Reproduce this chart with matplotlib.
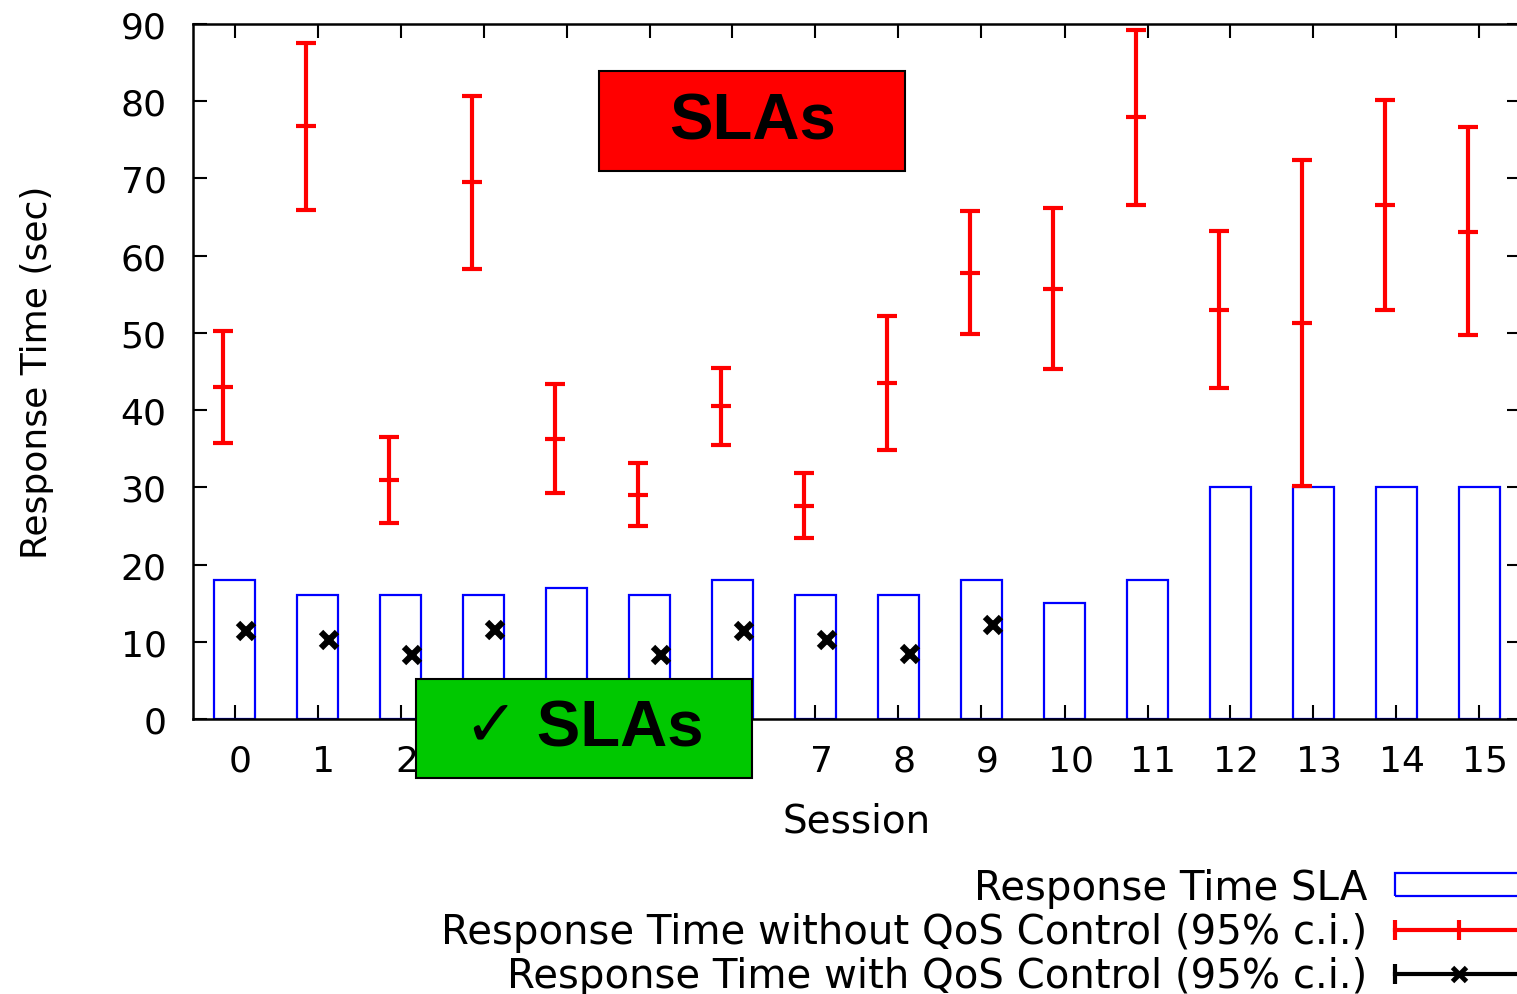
#!/usr/bin/env python3

import matplotlib
matplotlib.use('Agg')
import matplotlib.pyplot as plt
import matplotlib.transforms as mtrans
import numpy as np
from matplotlib.lines import Line2D
from matplotlib.patches import Patch, Rectangle
from matplotlib.legend_handler import HandlerTuple, HandlerLine2D

# ======================================================================
# Data.
# ======================================================================

sessions = np.arange(16)
sla = [18, 16, 16, 16, 17, 16, 18, 16, 16, 18, 15, 18, 30, 30, 30, 30]

# Without QoS control: mean and 95% c.i. bounds.
noqos_mean = [43.0, 76.8, 31.0, 69.6, 36.3, 29.0, 40.5, 27.6,
              43.5, 57.8, 55.7, 78.0, 53.0, 51.3, 66.6, 63.1]
noqos_low = [35.8, 65.9, 25.4, 58.3, 29.3, 25.0, 35.5, 23.4,
             34.8, 49.9, 45.3, 66.6, 42.9, 30.2, 53.0, 49.7]
noqos_high = [50.3, 87.6, 36.5, 80.7, 43.4, 33.2, 45.5, 31.9,
              52.2, 65.8, 66.2, 89.2, 63.2, 72.4, 80.2, 76.6]

# With QoS control (only sessions that were measured).
qos_mean = [11.4, 10.2, 8.3, 11.5, np.nan, 8.3, 11.4, 10.2,
            8.4, 12.2, np.nan, np.nan, np.nan, np.nan, np.nan, np.nan]

labels = [
    'Response Time SLA',
    'Response Time without QoS Control (95% c.i.)',
    'Response Time with QoS Control (95% c.i.)',
]

# ======================================================================
# Legend handler keeping markevery (gnuplot-like key samples).
# ======================================================================

class HandlerEvery(HandlerLine2D):
    def create_artists(self, legend, orig_handle, *args):
        arts = super().create_artists(legend, orig_handle, *args)
        for a in arts:
            a.set_markevery(orig_handle.get_markevery())
        return arts

# ======================================================================
# Plot.
# ======================================================================

plt.rcParams['font.family'] = ['DejaVu Sans']

fig = plt.figure(figsize=(15.17, 9.95), dpi=100)
ax = fig.add_axes([193/1517, 1-720/995, (1521-193)/1517, (720-25)/995])

ax.bar(sessions, sla, width=0.5, facecolor='none', edgecolor='#0000ff',
       linewidth=1.6, zorder=2)

dx = 0.14
mean = np.array(noqos_mean)
yerr = np.vstack([mean - np.array(noqos_low), np.array(noqos_high) - mean])
ax.errorbar(sessions - dx, mean, yerr=yerr, fmt='_', color='#ff0000',
            ecolor='#ff0000', elinewidth=3, capsize=7, capthick=3,
            markersize=15, markeredgewidth=3, zorder=3)

ax.plot(sessions + dx, qos_mean, linestyle='none', marker='x',
        color='black', markersize=12, markeredgewidth=4.5, zorder=4)

ax.set_xlim(-0.5, 15.5)
ax.set_ylim(0, 90)
ax.set_xticks(sessions)
ax.set_yticks(np.arange(0, 91, 10))
ax.tick_params(direction='in', length=10, width=1.5, top=True, right=True,
               labelsize=26)
ax.tick_params(axis='y', pad=19)
ax.tick_params(axis='x', pad=18)
shift = mtrans.ScaledTranslation(6/100, 0, fig.dpi_scale_trans)
for lab in ax.get_xticklabels():
    lab.set_transform(lab.get_transform() + shift)
for s in ax.spines.values():
    s.set_linewidth(1.8)

ax.set_xlabel('Session', fontsize=28, labelpad=17)
ax.set_ylabel('Response Time (sec)', fontsize=26, labelpad=48)

# Annotation boxes.
ax.add_patch(Rectangle((0.3057, 0.7885), 0.2304, 0.1439,
                       transform=ax.transAxes, facecolor='#ff0000',
                       edgecolor='black', linewidth=1.5, zorder=6))
ax.text(0.421, 0.860, 'SLAs', transform=ax.transAxes, ha='center',
        va='center', fontsize=47, fontweight='bold', zorder=7,
        family='Liberation Sans')
ax.add_patch(Rectangle((0.168, -0.0849), 0.253, 0.1425,
                       transform=ax.transAxes, facecolor='#00c800',
                       edgecolor='black', linewidth=1.5, zorder=6,
                       clip_on=False))
ax.text(0.2945, -0.0137, '\u2713 SLAs', transform=ax.transAxes,
        ha='center', va='center', fontsize=47, fontweight='bold', zorder=7,
        family=['Liberation Sans', 'DejaVu Sans'], clip_on=False)

# Legend (gnuplot style, right part is cut off by the figure edge).
h_sla = Patch(facecolor='none', edgecolor='#0000ff', linewidth=1.6)
h_noqos = Line2D([], [], color='#ff0000', linewidth=3, marker='|',
                 markersize=14, markeredgewidth=3, markevery=[0, 1, 2])
h_qos_caps = Line2D([], [], color='black', linewidth=3, marker='|',
                    markersize=14, markeredgewidth=3, markevery=[0, 2])
h_qos_mark = Line2D([], [], color='black', linestyle='none', marker='x',
                    markersize=10, markeredgewidth=3.5, markevery=[1])
every = HandlerEvery(numpoints=3, marker_pad=0)
fig.legend([h_sla, h_noqos, (h_qos_caps, h_qos_mark)], labels,
           handler_map={tuple: HandlerTuple(ndivide=1), h_noqos: every,
                        h_qos_caps: every, h_qos_mark: every},
           loc='lower right', bbox_to_anchor=(1522/1517, -0.002),
           bbox_transform=fig.transFigure, frameon=False, markerfirst=False,
           fontsize=29, handlelength=3.15, handleheight=0.5,
           handletextpad=0.7, labelspacing=0.1, borderpad=0,
           borderaxespad=0)

fig.savefig('out.png', dpi=100)
